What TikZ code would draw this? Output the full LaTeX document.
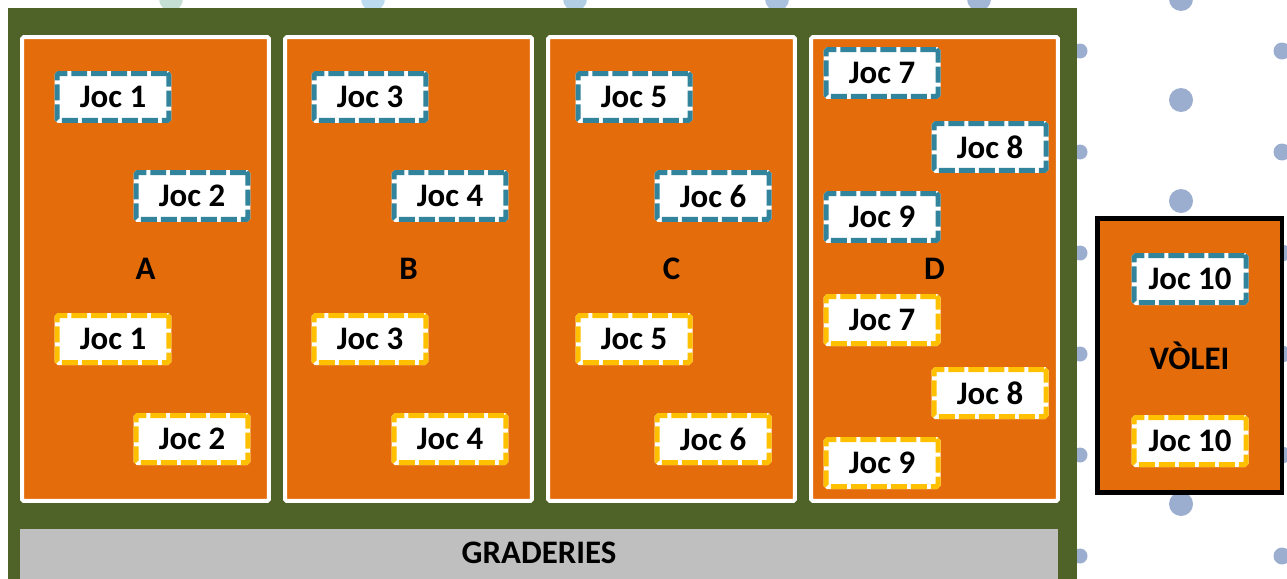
\documentclass[tikz,border=0pt]{standalone}
\usepackage{fontspec}
\setmainfont{Carlito}
\usepackage{tikz}
\usetikzlibrary{shapes}

\definecolor{pista}{HTML}{E46C0A}
\definecolor{gespa}{HTML}{4F6228}
\definecolor{torn1}{HTML}{31849B}
\definecolor{torn2}{HTML}{FFC000}
\definecolor{grada}{HTML}{BFBFBF}
\definecolor{puntg}{HTML}{C6DFD4}
\definecolor{punts}{HTML}{BCDBEE}
\definecolor{puntb}{HTML}{9BAED0}

\begin{document}
\begin{tikzpicture}[x=0.02cm,y=-0.02cm,
		lletra/.style={font=\fontsize{18.7}{22}\selectfont\bfseries},
		pistabox/.style={rectangle,draw=white,fill=pista,line width=0.08cm,rounded corners=1pt,minimum width=4.94cm,minimum height=9.28cm,lletra},
		joc/.style={rectangle,fill=white,line width=0.1cm,rounded corners=1pt,dash pattern=on 0.32cm off 0.08cm,minimum width=2.24cm,minimum height=0.94cm,inner sep=0pt,lletra,preaction={draw=white,solid}},
		joc1/.style={joc,draw=torn1},
		joc2/.style={joc,draw=torn2}]
		
			\useasboundingbox (0,0) rectangle (1287,578);
			\clip (0,0) rectangle (1287,578);
			
			\foreach \px/\pc in {171/puntg,373/punts,575/punts!70!puntb,777/punts!45!puntb,979/punts!20!puntb,1181/puntb}
				\fill[\pc] (\px,-1) circle[radius=0.24cm];
			\foreach \j in {1,...,5}
				\fill[puntb] (1181,{101*\j-1}) circle[radius=0.24cm];
			\foreach \j in {0,...,5} {
				\fill[puntb] (1080,{51+101*\j}) circle[radius=0.15cm];
				\fill[puntb] (1282,{51+101*\j}) circle[radius=0.17cm];
			}
			
			\fill[gespa] (8,8) rectangle (1077,600);
			\fill[grada] (20,529) rectangle (1058,600);
			\node[lletra] (grad) at (539,553) {GRADERIES};
			
			\node[pistabox] (A) at (145.5,269) {A};
			\node[pistabox] (B) at (408.5,269) {B};
			\node[pistabox] (C) at (671.5,269) {C};
			\node[pistabox] (D) at (934.5,269) {D};
			
			\node[joc1] (a1) at (113,97) {Joc 1};
			\node[joc1] (a2) at (192,196) {Joc 2};
			\node[joc2] (a1') at (113,339) {Joc 1};
			\node[joc2] (a2') at (192,439) {Joc 2};
			
			\node[joc1] (b3) at (370,97) {Joc 3};
			\node[joc1] (b4) at (450,196) {Joc 4};
			\node[joc2] (b3') at (370,339) {Joc 3};
			\node[joc2] (b4') at (450,439) {Joc 4};
			
			\node[joc1] (c5) at (634,97) {Joc 5};
			\node[joc1] (c6) at (713,196) {Joc 6};
			\node[joc2] (c5') at (634,339) {Joc 5};
			\node[joc2] (c6') at (713,439) {Joc 6};
			
			\node[joc1] (d7) at (882,73) {Joc 7};
			\node[joc1] (d8) at (990,147) {Joc 8};
			\node[joc1] (d9) at (882,217) {Joc 9};
			\node[joc2] (d7') at (882,320) {Joc 7};
			\node[joc2] (d8') at (990,393) {Joc 8};
			\node[joc2] (d9') at (882,463) {Joc 9};
			
			\node[rectangle,draw=black,fill=pista,line width=0.09cm,minimum width=3.69cm,minimum height=5.49cm,lletra] (V) at (1189.5,355.5) {VÒLEI};
			\node[joc1] (v10) at (1190,279) {Joc 10};
			\node[joc2] (v10') at (1190,441) {Joc 10};
		
		\end{tikzpicture}
\end{document}
